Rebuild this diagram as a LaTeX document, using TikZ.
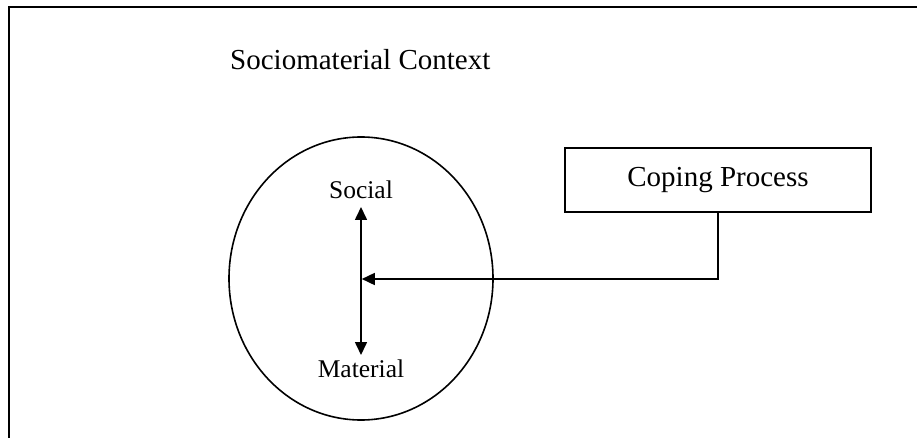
\documentclass[tikz,border=0pt]{standalone}
\usepackage{fontspec}
\setmainfont{Liberation Serif}
\usetikzlibrary{arrows.meta,shapes.geometric}
\begin{document}
\begin{tikzpicture}[x=1pt,y=-1pt,
  line/.style={line width=1.6pt,draw=black},
  head/.tip={Triangle[length=13pt,width=12pt]},
  tip/.style={-head},
  bigtext/.style={font=\fontsize{29}{34}\selectfont,inner sep=0pt},
  smalltext/.style={font=\fontsize{25.5}{30}\selectfont,inner sep=0pt},
  procbox/.style={draw,line width=1.6pt,minimum width=306pt,minimum height=64pt,
    inner sep=0pt,font=\fontsize{29}{34}\selectfont}]
  \useasboundingbox (0,0) rectangle (917,438);

  % open frame: only top and left edges are drawn
  \draw[line width=2.6pt] (917,7) -- (9,7) -- (9,438);

  % title
  \node[bigtext,anchor=base west] (title) at (230,70) {Sociomaterial Context};

  % context ellipse
  \node[ellipse,line,minimum width=264pt,minimum height=283pt,inner sep=0pt] (ctx) at (361,278.5) {};

  % social / material poles
  \node[smalltext,anchor=base] (soc) at (361,199) {Social};
  \node[smalltext,anchor=base] (mat) at (361,377) {Material};
  \coordinate (stop) at (361,207);
  \coordinate (sbot) at (361,355);
  \coordinate (mid) at (361.8,279);
  \draw[line,head-head] (stop) -- (sbot);

  % coping process box and its link into the ellipse
  \node[procbox] (cp) at (718,180) {Coping Process};
  \draw[line,tip] (cp.south) |- (mid);
\end{tikzpicture}
\end{document}
